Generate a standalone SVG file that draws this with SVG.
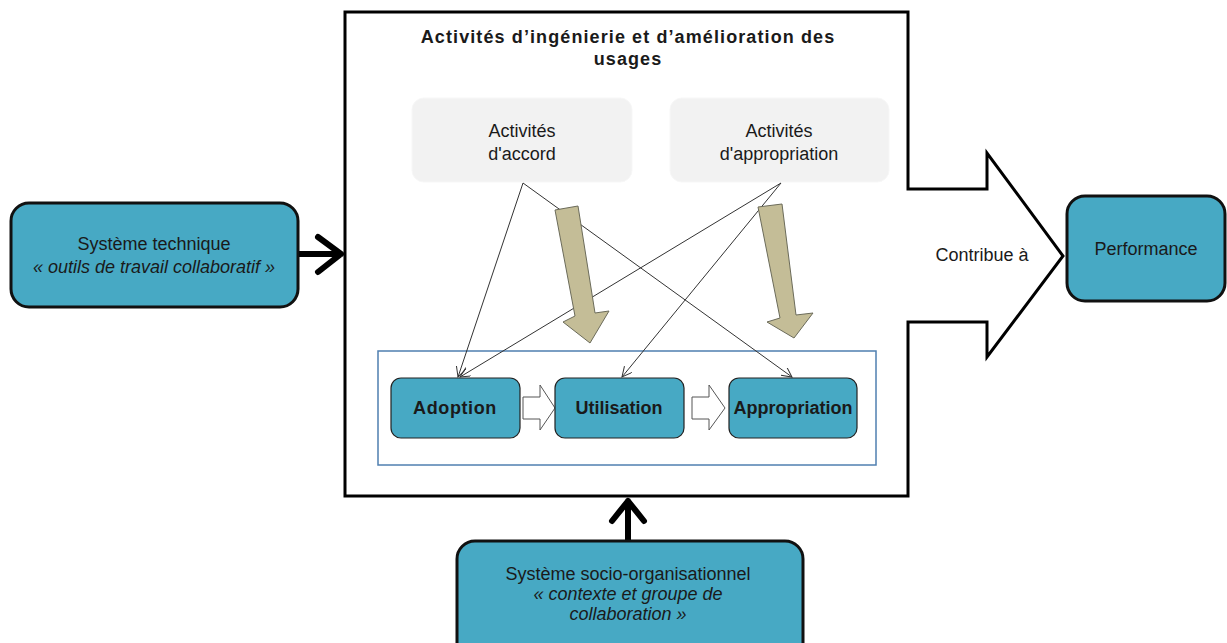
<svg xmlns="http://www.w3.org/2000/svg" width="1227" height="643" viewBox="0 0 1227 643">
<defs>
<style>
.node{fill:#47a9c4;stroke:#111;stroke-width:3}
.inode{fill:#47a9c4;stroke:#222;stroke-width:1.2}
.t{font-family:"Liberation Sans",Arial,sans-serif;font-size:18px;fill:#1a1a1a;text-anchor:middle}
.it{font-style:italic}
.b{font-weight:bold}
.gray{fill:#f2f2f2;stroke:#f7f7f7;stroke-width:1}
.thin{fill:none;stroke:#333;stroke-width:1}
.tan{fill:#c4bd97;stroke:#6b6b5a;stroke-width:1}
.hollow{fill:#fff;stroke:#555;stroke-width:1}
.thick{fill:none;stroke:#000;stroke-width:6;stroke-linecap:round;stroke-linejoin:round}
</style>
<marker id="open" markerWidth="12" markerHeight="12" refX="10" refY="5" orient="auto" markerUnits="userSpaceOnUse">
<path d="M0,0 L10,5 L0,10" fill="none" stroke="#333" stroke-width="1"/>
</marker>
</defs>
<rect width="1227" height="643" fill="#fff"/>

<g id="frame">
<path d="M345,12 L908,12 L908,189 L987,189 L987,153 L1063,256 L987,357 L987,322 L908,322 L908,496 L345,496 Z" fill="#fff" stroke="#000" stroke-width="3"/>
<text class="t b" x="628" y="43" font-size="19" letter-spacing="1.1">Activités d’ingénierie et d’amélioration des</text>
<text class="t b" x="628" y="65" font-size="19" letter-spacing="1.1">usages</text>
<text class="t" x="982" y="261">Contribue à</text>
</g>

<g id="accord">
<rect class="gray" x="412" y="98" width="220" height="84" rx="12"/>
<text class="t" x="522" y="137">Activités</text>
<text class="t" x="522" y="160">d'accord</text>
</g>
<g id="appropriation-act">
<rect class="gray" x="670" y="98" width="219" height="84" rx="12"/>
<text class="t" x="779" y="137">Activités</text>
<text class="t" x="779" y="160">d'appropriation</text>
</g>

<g id="process-frame">
<rect x="378" y="351" width="498" height="114" fill="none" stroke="#4f7fb0" stroke-width="1.5"/>
</g>

<g id="connectors">
<line class="thin" x1="523" y1="183" x2="458" y2="377" marker-end="url(#open)"/>
<line class="thin" x1="523" y1="183" x2="792" y2="377" marker-end="url(#open)"/>
<line class="thin" x1="781" y1="183" x2="460" y2="377" marker-end="url(#open)"/>
<line class="thin" x1="781" y1="183" x2="622" y2="377" marker-end="url(#open)"/>
<path class="tan" d="M555,210 L578,206 L595,313 L609,311 L590,343 L563,322 L575,316 Z"/>
<path class="tan" d="M758,207 L782,204 L796,315 L813,313 L794,338 L767,322 L780,318 Z"/>
<path class="hollow" d="M523,397 L540,397 L540,385 L555,408 L540,430 L540,419 L523,419 Z"/>
<path class="hollow" d="M692,397 L709,397 L709,385 L725,408 L709,430 L709,419 L692,419 Z"/>
<path class="thick" d="M298,254 L341,254 M318,237 L341,254 L318,272"/>
<path class="thick" d="M628,540 L628,501 M612,521 L628,501 L644,521"/>
</g>

<g id="adoption">
<rect class="inode" x="391" y="378" width="129" height="60" rx="10"/>
<text class="t b" x="455" y="414" letter-spacing="0.6">Adoption</text>
</g>
<g id="utilisation">
<rect class="inode" x="555" y="378" width="129" height="60" rx="10"/>
<text class="t b" x="619" y="414">Utilisation</text>
</g>
<g id="appropriation">
<rect class="inode" x="729" y="378" width="128" height="60" rx="10"/>
<text class="t b" x="793" y="414">Appropriation</text>
</g>

<g id="systeme-technique">
<rect class="node" x="11" y="203" width="287" height="104" rx="18"/>
<text class="t" x="154" y="250">Système technique</text>
<text class="t it" x="154" y="273">« outils de travail collaboratif »</text>
</g>

<g id="performance">
<rect class="node" x="1067" y="196" width="158" height="105" rx="18"/>
<text class="t" x="1146" y="255" font-size="19.5">Performance</text>
</g>

<g id="socio">
<rect class="node" x="457" y="541" width="346" height="120" rx="18"/>
<text class="t" x="628" y="580">Système socio-organisationnel</text>
<text class="t it" x="628" y="600">« contexte  et groupe de</text>
<text class="t it" x="628" y="620">collaboration »</text>
</g>
</svg>
